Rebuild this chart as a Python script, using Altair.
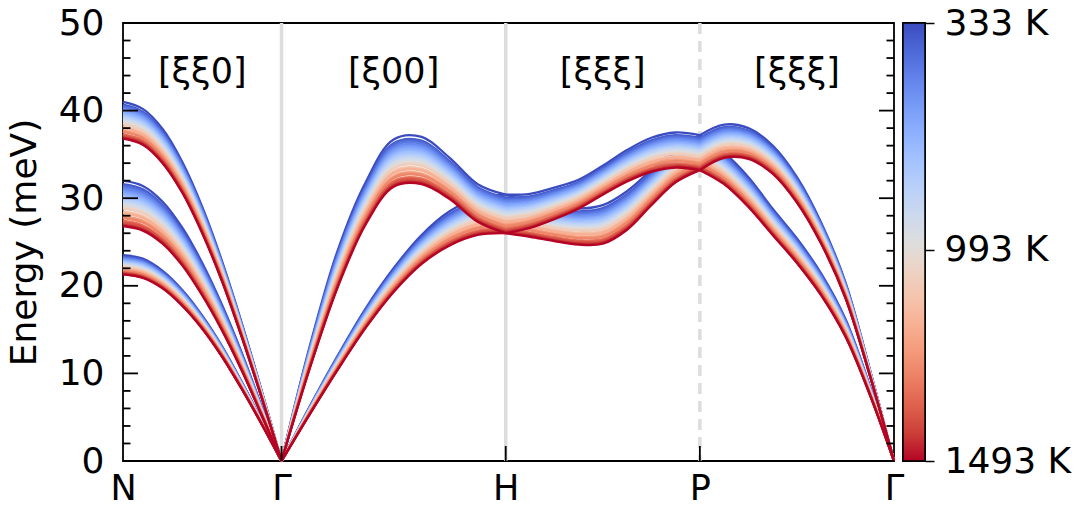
import altair as alt
import pandas as pd

# ---------------- data ----------------
# temperatures (K) of the dispersion curves (colour order = list order)
temps = [333, 423, 464, 504, 545, 586, 627, 667, 708, 749, 789, 830, 871, 912, 952, 993,
         1018, 1043, 1113, 1138, 1163, 1233, 1258, 1283, 1353, 1378, 1403, 1443, 1468, 1493]
cbar_ticks = [333, 993, 1493]

# high-symmetry points (path length in units of 2pi/a)
kpt_labels = ["N", "Γ", "H", "P", "Γ"]
kpt_q = [0.0, 0.7071, 1.7071, 2.5731, 3.4391]
seg_labels = ["[ξξ0]", "[ξ00]", "[ξξξ]", "[ξξξ]"]

# sample positions along each segment (fraction of segment)
frac = [0.0, 0.125, 0.25, 0.375, 0.5, 0.625, 0.75, 0.875, 1.0]

# energies (meV) read at the coldest (333 K) and hottest (1493 K) temperature
NG_top_333 = [41.0, 40.2, 37.9, 34.1, 29.0, 22.8, 15.7, 8.0, 0.0]
NG_top_1493 = [36.8, 36.1, 34.0, 30.6, 26.0, 20.5, 14.1, 7.2, 0.0]
NG_mid_333 = [32.0, 31.4, 29.6, 26.6, 22.6, 17.8, 12.3, 6.2, 0.0]
NG_mid_1493 = [26.8, 26.3, 24.8, 22.3, 18.9, 14.9, 10.3, 5.2, 0.0]
NG_low_333 = [23.5, 23.1, 21.7, 19.5, 16.6, 13.1, 9.0, 4.6, 0.0]
NG_low_1493 = [21.3, 20.9, 19.7, 17.7, 15.1, 11.9, 8.2, 4.2, 0.0]

GH_L_333 = [0.0, 13.0, 24.0, 31.8, 36.7, 37.0, 34.6, 31.6, 30.4]
GH_L_1493 = [0.0, 10.5, 19.8, 27.0, 31.3, 31.6, 29.9, 27.3, 26.0]
GH_T_333 = [0.0, 6.2, 12.0, 17.4, 22.0, 25.8, 28.5, 30.0, 30.4]
GH_T_1493 = [0.0, 5.3, 10.4, 15.2, 19.3, 22.5, 24.6, 25.8, 26.0]

HP_up_333 = [30.4, 30.5, 31.2, 32.1, 33.7, 35.5, 36.9, 37.5, 37.2]
HP_up_1493 = [26.0, 26.6, 27.6, 28.8, 30.4, 31.9, 33.0, 33.5, 33.2]
HP_lo_333 = [30.4, 29.6, 29.0, 28.8, 29.2, 30.8, 33.2, 35.6, 37.2]
HP_lo_1493 = [26.0, 25.6, 25.1, 24.7, 24.8, 26.4, 29.2, 31.8, 33.2]

PG_L_333 = [37.2, 38.4, 38.0, 36.0, 32.4, 27.2, 20.4, 10.5, 0.0]
PG_L_1493 = [33.2, 34.6, 34.5, 32.8, 29.5, 24.8, 18.6, 9.8, 0.0]
PG_T_333 = [37.2, 35.2, 32.4, 28.8, 25.4, 21.4, 16.2, 8.6, 0.0]
PG_T_1493 = [33.2, 31.6, 29.0, 25.8, 22.6, 18.9, 14.2, 7.6, 0.0]

y_major = [0, 10, 20, 30, 40, 50]
y_minor = [2, 4, 6, 8, 12, 14, 16, 18, 22, 24, 26, 28, 32, 34, 36, 38, 42, 44, 46, 48]

# coolwarm colour stops
coolwarm = ["#3b4cc0", "#4d68d7", "#6282ea", "#779af7", "#8db0fe", "#a3c2ff", "#b8d0f9",
            "#ccd9ee", "#dddddd", "#ecd3c5", "#f5c4ad", "#f7b194", "#f49a7b", "#ec7f63",
            "#de604d", "#cb3e38", "#b40426"]

# ---------------- build tables ----------------
segments = [
    (0, 1, [(NG_top_333, NG_top_1493), (NG_mid_333, NG_mid_1493), (NG_low_333, NG_low_1493)]),
    (1, 2, [(GH_L_333, GH_L_1493), (GH_T_333, GH_T_1493)]),
    (2, 3, [(HP_up_333, HP_up_1493), (HP_lo_333, HP_lo_1493)]),
    (3, 4, [(PG_L_333, PG_L_1493), (PG_T_333, PG_T_1493)]),
]
NT = len(temps)
rows = []
for i, T in enumerate(temps):
    w = (T - temps[0]) / (temps[-1] - temps[0])
    for s, (a, b, branches) in enumerate(segments):
        q0, q1 = kpt_q[a], kpt_q[b]
        for bi, (cold, hot) in enumerate(branches):
            for f, ec, eh in zip(frac, cold, hot):
                rows.append({"i": i, "T": T, "line": f"{i:02d}-{s}-{bi}",
                             "q": q0 + f * (q1 - q0), "E": ec + w * (eh - ec)})
df = pd.DataFrame(rows)

W, H = 771, 438
FONT = "DejaVu Sans"
FS = 36

xlab_expr = ("[" + ",".join(f"'{s}'" for s in kpt_labels) + "][indexof(["
             + ",".join(str(v) for v in kpt_q) + "], datum.value)]")

xscale = alt.Scale(domain=[kpt_q[0], kpt_q[-1]], nice=False, zero=False)
yscale = alt.Scale(domain=[0, 50], nice=False, zero=False)

x_enc = alt.X("q:Q", scale=xscale,
              axis=alt.Axis(values=kpt_q, labelExpr=xlab_expr, ticks=False, tickSize=0,
                            domain=False, grid=False, labelFontSize=35, labelPadding=10,
                            labelFlush=False, labelOverlap=False, title=None))
y_enc = alt.Y("E:Q", scale=yscale,
              axis=alt.Axis(values=y_major, ticks=False, tickSize=0, domain=False, grid=False,
                            labelFontSize=FS, labelPadding=19, title="Energy (meV)",
                            titleFontSize=FS, titleFontWeight="normal", titlePadding=15))

dom = [k * (NT - 1) / (len(coolwarm) - 1) for k in range(len(coolwarm))]
cscale = alt.Scale(domain=dom, range=coolwarm, interpolate="rgb")

lines = alt.Chart(df).mark_line(strokeWidth=2.3, interpolate="catmull-rom").encode(
    x=x_enc, y=y_enc,
    color=alt.Color("i:Q", scale=cscale, legend=None),
    detail="line:N",
    order=alt.Order("q:Q"),
)

sep_solid = alt.Chart(pd.DataFrame({"q": [kpt_q[1], kpt_q[2]]})).mark_rule(
    color="#dddddd", strokeWidth=3.5).encode(x=alt.X("q:Q", scale=xscale))
sep_dash = alt.Chart(pd.DataFrame({"q": [kpt_q[3]]})).mark_rule(
    color="#dddddd", strokeWidth=3.5, strokeDash=[11, 7]).encode(x=alt.X("q:Q", scale=xscale))

seg_df = pd.DataFrame({"q": [(kpt_q[k] + kpt_q[k + 1]) / 2 for k in range(4)],
                       "E": [44.4] * 4, "txt": seg_labels})
seg_text = alt.Chart(seg_df).mark_text(fontSize=35, font=FONT, color="black",
                                       baseline="middle", align="center").encode(
    x=alt.X("q:Q", scale=xscale), y=alt.Y("E:Q", scale=yscale), text="txt:N")

tick_style = dict(color="black", strokeWidth=1.8)
maj_df = pd.DataFrame({"E": y_major})
min_df = pd.DataFrame({"E": y_minor})
yt_l_maj = alt.Chart(maj_df).mark_rule(**tick_style).encode(
    y=alt.Y("E:Q", scale=yscale), x=alt.value(0), x2=alt.value(15))
yt_r_maj = alt.Chart(maj_df).mark_rule(**tick_style).encode(
    y=alt.Y("E:Q", scale=yscale), x=alt.value(W - 15), x2=alt.value(W))
yt_l_min = alt.Chart(min_df).mark_rule(**tick_style).encode(
    y=alt.Y("E:Q", scale=yscale), x=alt.value(0), x2=alt.value(7.5))
yt_r_min = alt.Chart(min_df).mark_rule(**tick_style).encode(
    y=alt.Y("E:Q", scale=yscale), x=alt.value(W - 7.5), x2=alt.value(W))
xt = alt.Chart(pd.DataFrame({"q": kpt_q[1:4]})).mark_rule(**tick_style).encode(
    x=alt.X("q:Q", scale=xscale), y=alt.value(H - 15), y2=alt.value(H))

main = alt.layer(sep_solid, sep_dash, lines, seg_text,
                 yt_l_maj, yt_r_maj, yt_l_min, yt_r_min, xt).properties(width=W, height=H)

# ---------------- colour bar ----------------
k_mid = temps.index(cbar_ticks[1])
cb_vals = [0, k_mid, NT - 1]
cb_expr = ("[" + ",".join(f"'{t} K'" for t in cbar_ticks) + "][indexof(["
           + ",".join(str(v) for v in cb_vals) + "], datum.value)]")
grad = alt.LinearGradient(
    gradient="linear",
    stops=[alt.GradientStop(offset=k / (len(coolwarm) - 1), color=c) for k, c in enumerate(coolwarm)],
    x1=0, x2=0, y1=0, y2=1)
cb = alt.Chart(pd.DataFrame({"lo": [0], "hi": [NT - 1]})).mark_rect(
    fill=grad, stroke="black", strokeWidth=1.5).encode(
    y=alt.Y("lo:Q", scale=alt.Scale(domain=[0, NT - 1], reverse=True, nice=False, zero=False),
            axis=alt.Axis(orient="right", values=cb_vals, labelExpr=cb_expr, tickSize=9,
                          tickWidth=1.5, tickColor="black", domain=False, grid=False,
                          labelFontSize=FS, labelPadding=10, labelOverlap=False, title=None)),
    y2="hi:Q", x=alt.value(0), x2=alt.value(22),
).properties(width=22, height=H)

chart = alt.HConcatChart(hconcat=[main, cb], spacing=9, bounds="flush").properties(
    padding={"left": 5, "top": 4, "right": 0, "bottom": 0}, background="white"
).configure_view(stroke="black", strokeWidth=1.8).configure_axis(
    labelFont=FONT, titleFont=FONT, labelColor="black", titleColor="black"
)

chart.save("out.html", embed_options={"renderer": "svg", "actions": False})
